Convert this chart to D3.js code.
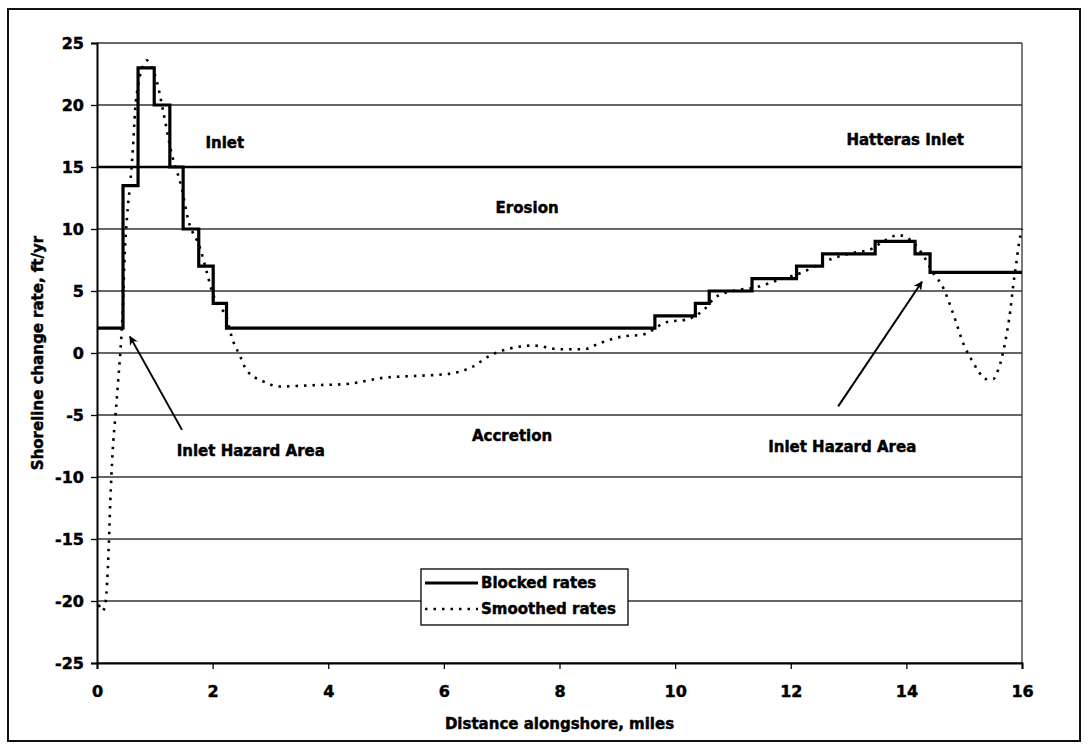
<!DOCTYPE html>
<html>
<head>
<meta charset="utf-8">
<script src="https://cdn.jsdelivr.net/npm/d3@7"></script>
<style>
  body { margin: 0; background: #fff; }
  svg { display: block; font-family: "DejaVu Sans", sans-serif; font-weight: bold; }
  svg text { stroke: #000; stroke-width: 0.45px; }
</style>
</head>
<body>
<div id="chart"></div>
<script>
// blocked rates: step starts (x in miles, rate ft/yr)
const blockedX = [0, 0.45, 0.71, 0.99, 1.26, 1.49, 1.76, 2.01, 2.24, 9.65, 10.35, 10.59, 11.33, 12.1, 12.55, 13.46, 14.15, 14.41, 16];
const blockedY = [2, 13.5, 23, 20, 15, 10, 7, 4, 2, 3, 4, 5, 6, 7, 8, 9, 8, 6.5, 6.5];

// smoothed rates
const smoothX = [0.03, 0.1, 0.15, 0.2, 0.23, 0.27, 0.32, 0.37, 0.41, 0.45, 0.48, 0.52, 0.58, 0.62, 0.66, 0.72, 0.8, 0.86, 0.95,
  1.03, 1.14, 1.29, 1.46, 1.58, 1.78, 1.9, 2.0, 2.15, 2.24, 2.33, 2.47, 2.59, 2.88, 3.17, 3.5, 3.74, 4.32, 4.95, 5.5, 6.05,
  6.5, 6.8, 7.09, 7.55, 8.0, 8.41, 8.7, 9.05, 9.45, 9.86, 10.2, 10.5, 10.7, 11.0, 11.4, 11.8, 12.2, 12.6, 13.0, 13.4, 13.6,
  13.86, 14.1, 14.3, 14.5, 14.6, 14.8, 15.0, 15.16, 15.25, 15.37, 15.5, 15.6, 15.65, 15.71, 15.8, 15.85, 15.9, 15.95, 16];
const smoothY = [-20.3, -20.8, -20, -16, -12, -8, -5, -2, 0.5, 4, 8, 11, 14, 16.4, 19.6, 21.8, 23.2, 23.6, 23,
  22, 19.6, 16.1, 13.4, 10.7, 8.5, 6.5, 4.8, 3.6, 2.9, 1.3, -0.2, -1.4, -2.3, -2.7, -2.65, -2.6, -2.5, -2.0, -1.85, -1.7,
  -1.1, -0.2, 0.3, 0.6, 0.3, 0.3, 0.8, 1.3, 1.5, 2.5, 2.7, 3.5, 4.5, 5.0, 5.3, 5.9, 6.5, 7.4, 8.0, 8.4, 9.0,
  9.5, 9.0, 7.8, 6.2, 5.6, 3.3, 0.6, -0.8, -1.5, -2.1, -2.1, -1.2, -0.4, 0.9, 3.5, 5.5, 7.2, 8.9, 10];

const xTicks = [0, 2, 4, 6, 8, 10, 12, 14, 16];
const yTicks = [25, 20, 15, 10, 5, 0, -5, -10, -15, -20, -25];

// text labels placed in data units
const labels = [
  { text: "Inlet", x: 2.21, y: 16.9 },
  { text: "Erosion", x: 7.44, y: 11.7 },
  { text: "Hatteras Inlet", x: 13.98, y: 17.2 },
  { text: "Accretion", x: 7.18, y: -6.7 },
  { text: "Inlet Hazard Area", x: 2.66, y: -7.9 },
  { text: "Inlet Hazard Area", x: 12.89, y: -7.6 },
];
const arrows = [
  { x1: 1.47, y1: -6.2, x2: 0.57, y2: 1.32 },
  { x1: 12.82, y1: -4.3, x2: 14.27, y2: 5.75 },
];

const width = 1088;
const height = 753;
const margin = { top: 43, right: 66, bottom: 90, left: 97 };

const x = d3.scaleLinear().domain([0, 16]).range([margin.left, width - margin.right]);
const y = d3.scaleLinear().domain([-25, 25]).range([height - margin.bottom, margin.top]);

const svg = d3
  .select("#chart")
  .append("svg")
  .attr("width", width)
  .attr("height", height);

// outer frame
svg.append("rect")
  .attr("x", 8).attr("y", 9)
  .attr("width", 1072).attr("height", 732)
  .attr("fill", "none")
  .attr("stroke", "#111")
  .attr("stroke-width", 2);

// gridlines
svg.append("g")
  .selectAll("line")
  .data(yTicks)
  .join("line")
  .attr("x1", x(0)).attr("x2", x(16))
  .attr("y1", (d) => y(d)).attr("y2", (d) => y(d))
  .attr("stroke", (d) => (d === 15 ? "#000" : "#333"))
  .attr("stroke-width", (d) => (d === 15 ? 2.5 : 1.3));

// right border of plot
svg.append("line")
  .attr("x1", x(16)).attr("x2", x(16))
  .attr("y1", y(25)).attr("y2", y(-25))
  .attr("stroke", "#333").attr("stroke-width", 1.3);

const yAxis = svg.append("g")
  .attr("transform", `translate(${x(0)},0)`)
  .call(d3.axisLeft(y).tickValues(yTicks).tickSize(6).tickPadding(7).tickFormat((d) => String(d)));
const xAxis = svg.append("g")
  .attr("transform", `translate(0,${y(-25)})`)
  .call(d3.axisBottom(x).tickValues(xTicks).tickSize(6).tickPadding(17).tickFormat((d) => String(d)));
for (const ax of [yAxis, xAxis]) {
  ax.select(".domain").attr("stroke", "#000").attr("stroke-width", 2);
  ax.selectAll(".tick line").attr("stroke", "#000").attr("stroke-width", 1.3);
  ax.selectAll("text")
    .attr("fill", "#000")
    .style("font-family", "DejaVu Sans, sans-serif")
    .style("font-weight", "bold")
    .style("font-size", "16px");
}

// axis titles
svg.append("text")
  .attr("transform", `translate(38,${(y(25) + y(-25)) / 2}) rotate(-90)`)
  .attr("text-anchor", "middle")
  .attr("dominant-baseline", "central")
  .attr("font-size", 15)
  .text("Shoreline change rate, ft/yr");
svg.append("text")
  .attr("x", (x(0) + x(16)) / 2)
  .attr("y", 724)
  .attr("text-anchor", "middle")
  .attr("dominant-baseline", "central")
  .attr("font-size", 15)
  .text("Distance alongshore, miles");

// series
const blocked = blockedX.map((d, i) => [d, blockedY[i]]);
const smooth = smoothX.map((d, i) => [d, smoothY[i]]);

svg.append("path")
  .datum(smooth)
  .attr("fill", "none")
  .attr("stroke", "#000")
  .attr("stroke-width", 2.6)
  .attr("stroke-dasharray", "2.5,6")
  .attr("d", d3.line().x((d) => x(d[0])).y((d) => y(d[1])).curve(d3.curveMonotoneX));

svg.append("path")
  .datum(blocked)
  .attr("fill", "none")
  .attr("stroke", "#000")
  .attr("stroke-width", 3.2)
  .attr("d", d3.line().x((d) => x(d[0])).y((d) => y(d[1])).curve(d3.curveStepAfter));

// annotations
svg.append("defs")
  .append("marker")
  .attr("id", "head")
  .attr("viewBox", "0 0 10 10")
  .attr("refX", 9).attr("refY", 5)
  .attr("markerWidth", 9).attr("markerHeight", 9)
  .attr("markerUnits", "userSpaceOnUse")
  .attr("orient", "auto")
  .append("path")
  .attr("d", "M0,0 L10,5 L0,10 L3,5 Z")
  .attr("fill", "#000");

svg.append("g")
  .selectAll("line")
  .data(arrows)
  .join("line")
  .attr("x1", (d) => x(d.x1)).attr("y1", (d) => y(d.y1))
  .attr("x2", (d) => x(d.x2)).attr("y2", (d) => y(d.y2))
  .attr("stroke", "#000")
  .attr("stroke-width", 2)
  .attr("marker-end", "url(#head)");

svg.append("g")
  .selectAll("text")
  .data(labels)
  .join("text")
  .attr("x", (d) => x(d.x))
  .attr("y", (d) => y(d.y))
  .attr("text-anchor", "middle")
  .attr("dominant-baseline", "central")
  .attr("font-size", 15)
  .text((d) => d.text);

// legend
const legend = svg.append("g").attr("transform", "translate(421,569)");
legend.append("rect")
  .attr("width", 207).attr("height", 56)
  .attr("fill", "#fff")
  .attr("stroke", "#000")
  .attr("stroke-width", 1.3);
legend.append("line")
  .attr("x1", 4).attr("x2", 57).attr("y1", 14).attr("y2", 14)
  .attr("stroke", "#000").attr("stroke-width", 3.2);
legend.append("line")
  .attr("x1", 4).attr("x2", 57).attr("y1", 40).attr("y2", 40)
  .attr("stroke", "#000").attr("stroke-width", 2.6).attr("stroke-dasharray", "2.5,6");
legend.append("text")
  .attr("x", 60).attr("y", 14)
  .attr("dominant-baseline", "central")
  .attr("font-size", 15)
  .text("Blocked rates");
legend.append("text")
  .attr("x", 60).attr("y", 40)
  .attr("dominant-baseline", "central")
  .attr("font-size", 15)
  .text("Smoothed rates");
</script>
</body>
</html>
